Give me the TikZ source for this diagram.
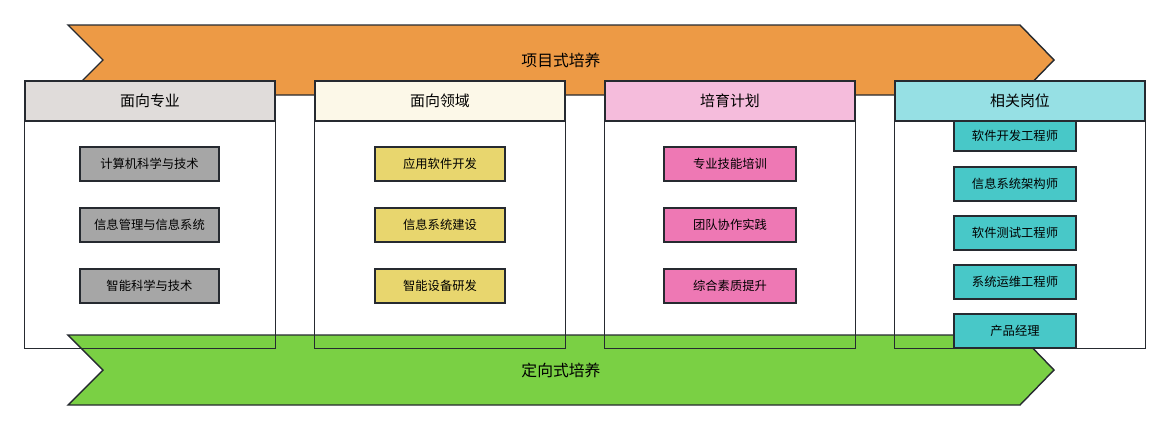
\documentclass[tikz,border=0pt]{standalone}
\usepackage{fontspec}
\setmainfont{Noto Sans CJK SC}
\definecolor{orangeband}{HTML}{ED9A45}
\definecolor{greenband}{HTML}{7AD044}
\definecolor{hdgray}{HTML}{E0DCDA}
\definecolor{hdcream}{HTML}{FCF8E8}
\definecolor{hdpink}{HTML}{F5BCDC}
\definecolor{hdcyan}{HTML}{96E0E4}
\definecolor{itgray}{HTML}{A6A6A6}
\definecolor{ityellow}{HTML}{E8D66E}
\definecolor{itpink}{HTML}{EE78B4}
\definecolor{itcyan}{HTML}{48C8C8}
\definecolor{edge}{HTML}{262A30}
\tikzset{
  band/.style={draw=edge, thick},
  panel/.style={rectangle, minimum width=5cm, minimum height=5.34cm, inner sep=0},
  header/.style={rectangle, draw=edge, thick, minimum width=5cm, minimum height=0.8cm, font=\fontsize{8.5}{10}\selectfont},
  item/.style={rectangle, draw=edge, thick, minimum height=0.68cm, font=\fontsize{7}{8}\selectfont}
}
\begin{document}
\begin{tikzpicture}[x=0.02cm, y=-0.02cm]
        \useasboundingbox (0,0) rectangle (1170,430);
        % top band, behind the panels
        \draw[band, fill=orangeband] (68,25) -- (1020,25) -- (1054,60) -- (1020,95) -- (68,95) -- (103,60) -- cycle;
        \node[font=\fontsize{9}{11}\selectfont] (top) at (561,60) {项目式培养};
        % panel fills
        \foreach \n/\x in {p1/150, p2/440, p3/730, p4/1020}
                \node[panel, fill=white] (\n) at (\x,214.5) {};
        % bottom band
        \draw[band, fill=greenband] (68,335) -- (1020,335) -- (1054,370) -- (1020,405) -- (68,405) -- (103,370) -- cycle;
        \node[font=\fontsize{9}{11}\selectfont] (bottom) at (561,370) {定向式培养};
        % panel outlines and headers
        \foreach \n in {p1,p2,p3,p4}
                \draw[edge, thick] (\n.south west) rectangle (\n.north east);
        \node[header, fill=hdgray] (h1) at (150,101) {面向专业};
        \node[header, fill=hdcream] (h2) at (440,101) {面向领域};
        \node[header, fill=hdpink] (h3) at (730,101) {培育计划};
        \node[header, fill=hdcyan] (h4) at (1020,101) {相关岗位};
        % items
        \foreach \t [count=\i] in {计算机科学与技术, 信息管理与信息系统, 智能科学与技术}
                \node[item, fill=itgray, minimum width=2.78cm] (a\i) at (149.5,164+61*\i-61) {\t};
        \foreach \t [count=\i] in {应用软件开发, 信息系统建设, 智能设备研发}
                \node[item, fill=ityellow, minimum width=2.6cm] (b\i) at (440,164+61*\i-61) {\t};
        \foreach \t [count=\i] in {专业技能培训, 团队协作实践, 综合素质提升}
                \node[item, fill=itpink, minimum width=2.64cm] (c\i) at (730,164+61*\i-61) {\t};
        \node[item, fill=itcyan, minimum width=2.44cm, minimum height=0.6cm] (d1) at (1015,136) {软件开发工程师};
        \foreach \t [count=\i] in {信息系统架构师, 软件测试工程师, 系统运维工程师, 产品经理}
                \node[item, fill=itcyan, minimum width=2.44cm] (d\i) at (1015,184+49*\i-49) {\t};
\end{tikzpicture}
\end{document}
